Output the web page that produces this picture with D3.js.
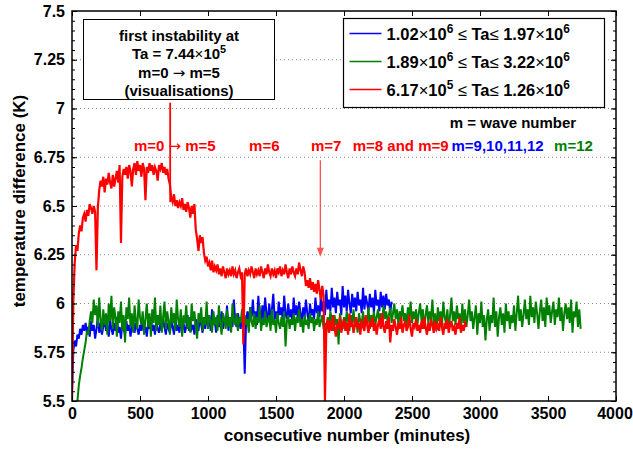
<!DOCTYPE html>
<html>
<head>
<meta charset="utf-8">
<script src="https://cdnjs.cloudflare.com/ajax/libs/d3/7.8.5/d3.min.js"></script>
<style>
body { margin: 0; background: #fff; }
svg text { font-family: "Liberation Sans", Arial, Helvetica, sans-serif; font-weight: bold; fill: #000; }
</style>
</head>
<body>
<div id="chart-area"></div>
<script>

// Data (one reading every 10 minutes)

var step = 10;

var blueStart = 0;
var blueValues = [
  5.55, 5.76, 5.81, 5.78, 5.84, 5.82, 5.87, 5.84, 5.89, 5.86,
  5.90, 5.85, 5.88, 5.83, 5.91, 5.86, 5.89, 5.82, 5.87, 5.93,
  5.85, 5.90, 5.84, 5.88, 5.92, 5.86, 5.89, 5.83, 5.91, 5.87,
  5.84, 5.90, 5.86, 5.93, 5.85, 5.88, 5.82, 5.90, 5.87, 5.84,
  5.91, 5.86, 5.89, 5.83, 5.88, 5.92, 5.85, 5.90, 5.87, 5.84,
  5.89, 5.86, 5.92, 5.85, 5.88, 5.83, 5.90, 5.87, 5.93, 5.86,
  5.89, 5.84, 5.91, 5.87, 5.85, 5.90, 5.86, 5.92, 5.88, 5.84,
  5.90, 5.87, 5.85, 5.91, 5.88, 5.84, 5.93, 5.86, 5.89, 5.85,
  5.92, 5.87, 5.90, 5.85, 5.88, 5.94, 5.86, 5.91, 5.87, 5.89,
  5.84, 5.92, 5.88, 5.86, 5.93, 5.89, 5.85, 5.91, 5.87, 5.95,
  5.88, 5.92, 5.86, 5.97, 5.89, 5.91, 5.85, 5.94, 5.88, 5.90,
  5.96, 5.87, 5.92, 5.89, 5.99, 5.86, 5.93, 5.90, 5.88, 6.02,
  5.91, 5.88, 5.95, 5.90, 5.87, 5.93, 5.89, 5.64, 5.91, 5.96,
  5.90, 5.98, 5.93, 6.02, 5.91, 5.96, 5.89, 6.04, 5.94, 5.90,
  5.99, 5.92, 6.03, 5.95, 5.91, 6.00, 5.93, 5.97, 6.05, 5.92,
  5.96, 5.90, 6.01, 5.94, 5.98, 5.91, 6.04, 5.95, 5.92, 6.00,
  5.93, 5.97, 5.90, 6.03, 5.94, 5.99, 5.92, 6.01, 5.95, 5.91,
  5.98, 5.93, 6.02, 5.95, 5.90, 6.00, 5.94, 5.97, 5.92, 6.03,
  5.95, 5.99, 5.93, 6.04, 5.96, 6.01, 5.94, 6.07, 5.97, 6.02,
  5.96, 6.08, 5.98, 6.03, 5.95, 6.06, 5.99, 6.02, 5.94, 6.09,
  5.98, 6.04, 5.96, 6.07, 6.00, 5.95, 6.05, 5.98, 6.03, 5.96,
  6.06, 5.99, 6.02, 5.95, 6.08, 5.97, 6.04, 6.00, 5.96, 6.05,
  5.98, 6.03, 5.95, 6.07, 5.99, 6.02, 5.96, 6.06, 5.98, 6.04,
  5.97, 6.05, 5.99, 6.02, 5.95, 6.01
];

var greenStart = 40;
var greenValues = [
  5.50, 5.58, 5.63, 5.67, 5.72, 5.76, 5.80, 5.86, 5.84, 5.91,
  5.96, 5.90, 6.02, 5.94, 5.99, 5.88, 6.03, 5.92, 5.86, 5.97,
  5.89, 5.95, 5.84, 6.00, 5.91, 6.04, 5.87, 5.98, 5.93, 5.83,
  5.96, 5.90, 6.01, 5.86, 5.94, 5.80, 5.98, 5.92, 6.03, 5.88,
  5.95, 5.85, 5.99, 5.91, 5.87, 6.02, 5.93, 5.89, 5.96, 5.84,
  5.92, 6.00, 5.88, 5.95, 5.83, 5.97, 5.90, 6.03, 5.86, 5.94,
  5.89, 5.99, 5.85, 5.93, 6.01, 5.87, 5.96, 5.91, 5.84, 5.98,
  5.90, 5.95, 5.86, 6.02, 5.92, 5.88, 5.97, 5.83, 5.94, 5.90,
  5.99, 5.87, 5.93, 5.85, 6.00, 5.91, 5.96, 5.88, 5.82, 5.95,
  5.90, 5.98, 5.86, 5.93, 5.89, 6.01, 5.87, 5.94, 5.91, 5.85,
  5.96, 5.89, 5.93, 5.86, 5.99, 5.90, 5.84, 5.95, 5.92, 5.87,
  5.97, 5.88, 5.93, 5.85, 6.00, 5.91, 5.89, 5.95, 5.86, 5.93,
  5.90, 5.97, 5.87, 5.94, 5.89, 5.92, 5.85, 5.98, 5.91, 5.88,
  5.95, 5.87, 5.93, 5.90, 5.99, 5.86, 5.92, 5.89, 5.96, 5.88,
  5.91, 5.94, 5.86, 5.97, 5.89, 5.92, 5.85, 5.95, 5.90, 5.87,
  5.93, 5.88, 5.96, 5.78, 5.91, 5.94, 5.87, 5.92, 5.89, 5.95,
  5.86, 5.93, 5.90, 5.97, 5.88, 5.92, 5.85, 5.94, 5.89, 5.91,
  5.87, 5.95, 5.90, 5.93, 5.86, 5.92, 5.89, 5.96, 5.88, 5.91,
  5.94, 5.87, 5.90, 5.85, 5.93, 5.88, 5.96, 5.91, 5.86, 5.94,
  5.89, 5.92, 5.79, 5.95, 5.90, 5.87, 5.93, 5.88, 5.96, 5.91,
  5.86, 5.94, 5.90, 5.97, 5.88, 5.92, 5.85, 5.95, 5.91, 5.89,
  5.96, 5.88, 5.93, 5.90, 5.98, 5.87, 5.94, 5.91, 5.96, 5.89,
  5.93, 5.97, 5.90, 5.95, 5.88, 5.99, 5.92, 5.96, 5.91, 5.94,
  5.98, 5.90, 5.95, 6.00, 5.92, 5.97, 5.89, 5.96, 5.93, 5.99,
  5.91, 5.95, 5.88, 5.98, 5.93, 6.01, 5.90, 5.96, 5.92, 5.97,
  5.89, 5.95, 6.00, 5.91, 5.97, 5.87, 5.94, 5.99, 5.90, 5.96,
  5.92, 6.02, 5.89, 5.95, 5.86, 5.98, 5.91, 5.96, 5.88, 6.01,
  5.93, 5.90, 5.97, 5.87, 5.94, 6.03, 5.91, 5.96, 5.89, 5.99,
  5.92, 5.95, 5.86, 6.00, 5.90, 5.97, 5.88, 5.94, 6.02, 5.91,
  5.96, 5.87, 5.93, 5.99, 5.84, 5.95, 5.90, 6.01, 5.88, 5.94,
  5.81, 5.92, 5.97, 5.86, 5.94, 5.90, 6.03, 5.88, 5.96, 5.83,
  5.93, 5.98, 5.89, 5.95, 5.85, 6.00, 5.91, 5.96, 5.87, 5.94,
  5.90, 5.99, 5.86, 5.95, 6.04, 5.91, 5.97, 5.88, 5.94, 6.02,
  5.92, 5.97, 5.89, 6.04, 5.93, 5.98, 5.90, 6.01, 5.95, 5.87,
  5.96, 6.02, 5.91, 5.98, 5.88, 6.03, 5.94, 5.99, 5.90, 5.96,
  6.01, 5.89, 5.97, 5.93, 6.03, 5.91, 5.98, 5.86, 5.95, 6.00,
  5.92, 5.98, 5.90, 6.02, 5.85, 5.96, 5.93, 6.01, 5.88, 5.97,
  5.87
];

var redStart = 0;
var redValues = [
  5.50, 6.02, 6.21, 6.30, 6.27, 6.36, 6.40, 6.37, 6.44, 6.46,
  6.42, 6.48, 6.45, 6.51, 6.49, 6.46, 6.50, 6.47, 6.17, 6.49,
  6.58, 6.63, 6.60, 6.65, 6.57, 6.64, 6.61, 6.67, 6.62, 6.59,
  6.66, 6.60, 6.64, 6.68, 6.62, 6.71, 6.31, 6.65, 6.69, 6.66,
  6.70, 6.64, 6.71, 6.68, 6.60, 6.69, 6.72, 6.66, 6.73, 6.68,
  6.71, 6.65, 6.72, 6.69, 6.53, 6.70, 6.67, 6.72, 6.68, 6.71,
  6.66, 6.70, 6.68, 6.63, 6.71, 6.69, 6.72, 6.67, 6.70, 6.66,
  6.69, 6.64, 6.61, 6.54, 6.52, 6.56, 6.50, 6.53, 6.49, 6.52,
  6.50, 6.54, 6.48, 6.51, 6.47, 6.52, 6.49, 6.44, 6.50, 6.46,
  6.51, 6.38, 6.33, 6.27, 6.35, 6.31, 6.34, 6.26, 6.22, 6.24,
  6.19, 6.21, 6.17, 6.22, 6.16, 6.19, 6.17, 6.20, 6.15, 6.18,
  6.14, 6.19, 6.16, 6.13, 6.18, 6.15, 6.17, 6.14, 6.19, 6.15,
  6.17, 6.13, 6.16, 6.18, 6.14, 6.16, 5.79, 6.15, 6.18, 6.14,
  6.17, 6.15, 6.19, 6.16, 6.13, 6.18, 6.15, 6.17, 6.14, 6.19,
  6.16, 6.13, 6.18, 6.15, 6.20, 6.16, 6.14, 6.18, 6.15, 6.17,
  6.13, 6.18, 6.16, 6.19, 6.14, 6.17, 6.15, 6.20, 6.16, 6.13,
  6.18, 6.15, 6.19, 6.16, 6.14, 6.18, 6.15, 6.21, 6.17, 6.14,
  6.19, 6.16, 6.09, 6.12, 6.08, 6.13, 6.07, 6.11, 6.06, 6.10,
  6.05, 6.12, 6.07, 6.02, 6.09, 6.04, 5.50, 5.88, 5.92, 5.85,
  5.91, 5.86, 5.94, 5.88, 5.83, 5.90, 5.87, 5.93, 5.85, 5.89,
  5.92, 5.86, 5.90, 5.84, 5.95, 5.88, 5.91, 5.85, 5.89, 5.93,
  5.87, 5.90, 5.84, 5.92, 5.88, 5.86, 5.94, 5.89, 5.85, 5.91,
  5.88, 5.93, 5.86, 5.90, 5.84, 5.89, 5.92, 5.87, 5.95, 5.88,
  5.85, 5.91, 5.87, 5.93, 5.80, 5.89, 5.86, 5.92, 5.88, 5.84,
  5.90, 5.87, 5.93, 5.85, 5.89, 5.91, 5.86, 5.88, 5.94, 5.87,
  5.83, 5.90, 5.88, 5.92, 5.86, 5.89, 5.85, 5.91, 5.87, 5.93,
  5.88, 5.84, 5.90, 5.86, 5.92, 5.89, 5.85, 5.91, 5.87, 5.89,
  5.86, 5.93, 5.88, 5.84, 5.90, 5.87, 5.92, 5.85, 5.89, 5.91,
  5.86, 5.88, 5.84, 5.90, 5.87, 5.93, 5.85, 5.89, 5.86, 5.90,
  5.88
];

var seriesColors = ["#0000ff", "#008000", "#ff0000"];
var legendLabels = [
  "1.02×10^6 ≤ Ta≤ 1.97×10^6",
  "1.89×10^6 ≤ Ta≤ 3.22×10^6",
  "6.17×10^5 ≤ Ta≤ 1.26×10^6"
];

var xTicks = [0, 500, 1000, 1500, 2000, 2500, 3000, 3500, 4000];
var yTicks = [5.5, 5.75, 6, 6.25, 6.5, 6.75, 7, 7.25, 7.5];
var yTickLabels = ["5.5", "5.75", "6", "6.25", "6.5", "6.75", "7", "7.25", "7.5"];
var yGrid = [5.75, 6, 6.25, 6.5, 6.75, 7, 7.25];

var noteLines = ["first instability at", "Ta = 7.44×10^5", "m=0 → m=5", "(visualisations)"];
var waveLabels = [
  {text: "m=0 → m=5", t: 455, color: "#ff0000"},
  {text: "m=6", t: 1302, color: "#ff0000"},
  {text: "m=7", t: 1757, color: "#ff0000"},
  {text: "m=8 and m=9", t: 2064, color: "#ff0000"},
  {text: "m=9,10,11,12", t: 2790, color: "#0000ff"},
  {text: "m=12", t: 3545, color: "#008000"}
];

// SVG drawing area

var margin = {top: 11, right: 17, bottom: 48, left: 72};

var width = 633 - margin.left - margin.right,
    height = 449 - margin.top - margin.bottom;

var svg = d3.select("#chart-area").append("svg")
    .attr("width", width + margin.left + margin.right)
    .attr("height", height + margin.top + margin.bottom)
  .append("g")
    .attr("transform", "translate(" + margin.left + "," + margin.top + ")");

// Scales
var x = d3.scaleLinear().domain([0, 4000]).range([0, width]);
var y = d3.scaleLinear().domain([5.5, 7.5]).range([height, 0]);

// text with ^superscripts and thin symbols
function richText(textSel, str, size) {
  var parts = str.split(/(\^\d+|×|≤|→)/).filter(function(p) { return p !== ""; });
  var shift = 0;
  parts.forEach(function(p) {
    var t = textSel.append("tspan");
    if (p[0] === "^") {
      t.text(p.slice(1)).attr("font-size", size * 0.72).attr("dy", -size * 0.42);
      shift = size * 0.42;
    } else {
      if (shift) { t.attr("dy", shift); shift = 0; }
      t.text(p);
      if (p === "×" || p === "≤") t.attr("font-weight", "normal");
      if (p === "→") t.attr("font-weight", "normal").attr("font-family", "DejaVu Sans");
    }
  });
}

// grid
svg.selectAll(".grid").data(yGrid).enter().append("line")
    .attr("class", "grid")
    .attr("x1", 0).attr("x2", width)
    .attr("y1", function(d) { return y(d); })
    .attr("y2", function(d) { return y(d); })
    .attr("stroke", "#888")
    .attr("stroke-width", 1)
    .attr("stroke-dasharray", "1,3");

// series
svg.append("clipPath").attr("id", "plot-clip")
  .append("rect").attr("width", width).attr("height", height + 1);

var line = d3.line()
    .x(function(d) { return x(d[0]); })
    .y(function(d) { return y(d[1]); });

function points(start, values) {
  return values.map(function(v, i) { return [start + i * step, v]; });
}

var series = [
  {pts: points(blueStart, blueValues), color: seriesColors[0], w: 2},
  {pts: points(greenStart, greenValues), color: seriesColors[1], w: 2},
  {pts: points(redStart, redValues), color: seriesColors[2], w: 2.2}
];

svg.append("g").attr("clip-path", "url(#plot-clip)")
  .selectAll("path").data(series).enter().append("path")
    .attr("d", function(d) { return line(d.pts); })
    .attr("fill", "none")
    .attr("stroke", function(d) { return d.color; })
    .attr("stroke-width", function(d) { return d.w; })
    .attr("stroke-linejoin", "miter");

// axes (ticks point inward)
var minorY = d3.range(5.5, 7.5001, 0.05);

var xAxisGroup = svg.append("g").attr("transform", "translate(0," + height + ")")
    .call(d3.axisBottom(x).tickValues(xTicks).tickSize(-5).tickPadding(7)
      .tickFormat(d3.format("d")));
svg.append("g")
    .call(d3.axisTop(x).tickValues(xTicks).tickSize(-5).tickFormat(""));
svg.append("g")
    .call(d3.axisLeft(y).tickValues(yTicks).tickSize(-5).tickPadding(7)
      .tickFormat(function(d, i) { return yTickLabels[i]; }));
svg.append("g")
    .call(d3.axisLeft(y).tickValues(minorY).tickSize(-3).tickFormat(""));
svg.append("g").attr("transform", "translate(" + width + ",0)")
    .call(d3.axisRight(y).tickValues(yTicks).tickSize(-5).tickFormat(""));
svg.append("g").attr("transform", "translate(" + width + ",0)")
    .call(d3.axisRight(y).tickValues(minorY).tickSize(-3).tickFormat(""));

svg.selectAll(".domain").remove();
svg.selectAll(".tick line").attr("stroke", "#000");
svg.selectAll(".tick text").attr("font-size", 16).attr("font-family", null);
// keep the last label inside the window
xAxisGroup.selectAll(".tick text").filter(function(d) { return d === 4000; }).attr("dx", -1.5);

svg.append("rect")
    .attr("width", width).attr("height", height)
    .attr("fill", "none").attr("stroke", "#000").attr("stroke-width", 1.5);

// axis labels
svg.append("text")
    .attr("x", 275).attr("y", height + 40)
    .attr("text-anchor", "middle").attr("font-size", 17)
    .text("consecutive number (minutes)");

svg.append("text")
    .attr("transform", "translate(" + (-47) + "," + 190 + ") rotate(-90)")
    .attr("text-anchor", "middle").attr("font-size", 17)
    .text("temperature difference (K)");

// instability note box
svg.append("rect")
    .attr("x", 11.5).attr("y", 8.5).attr("width", 191).attr("height", 80)
    .attr("fill", "#fff").attr("stroke", "#000").attr("stroke-width", 1);

noteLines.forEach(function(s, i) {
  var t = svg.append("text")
      .attr("x", 107).attr("y", [29.5, 48, 67, 85][i])
      .attr("text-anchor", "middle").attr("font-size", 15);
  richText(t, s, 15);
});

// line from the note to the data
svg.append("line")
    .attr("x1", x(722)).attr("x2", x(722))
    .attr("y1", y(7.03)).attr("y2", y(6.52))
    .attr("stroke", "#ff0000").attr("stroke-width", 1.8);

// arrow at the m=7 onset
svg.append("line")
    .attr("x1", x(1826)).attr("x2", x(1826))
    .attr("y1", y(6.735)).attr("y2", y(6.25))
    .attr("stroke", "#ff5050").attr("stroke-width", 1.3);
svg.append("path")
    .attr("d", "M" + (x(1826) - 3.5) + "," + (y(6.25) - 7) +
               " L" + x(1826) + "," + (y(6.25) + 2) +
               " L" + (x(1826) + 3.5) + "," + (y(6.25) - 7) + " Z")
    .attr("fill", "#ff5050");

// wave number labels
waveLabels.forEach(function(d) {
  var t = svg.append("text")
      .attr("x", x(d.t)).attr("y", 140)
      .attr("font-size", 15)
      .style("fill", d.color);
  richText(t, d.text, 15);
});

svg.append("text")
    .attr("x", 441).attr("y", 117)
    .attr("text-anchor", "middle").attr("font-size", 15)
    .text("m = wave number");

// legend
var legend = svg.append("g").attr("transform", "translate(271.5,7.5)");
legend.append("rect")
    .attr("width", 261).attr("height", 89)
    .attr("fill", "#fff").attr("stroke", "#000").attr("stroke-width", 1.2);

legendLabels.forEach(function(s, i) {
  var ly = 15 + i * 28;
  legend.append("line")
      .attr("x1", 6).attr("x2", 38).attr("y1", ly).attr("y2", ly)
      .attr("stroke", seriesColors[i]).attr("stroke-width", 1.5);
  var t = legend.append("text")
      .attr("x", 43).attr("y", ly + 6).attr("font-size", 16.5);
  richText(t, s, 16.5);
});

</script>
</body>
</html>
